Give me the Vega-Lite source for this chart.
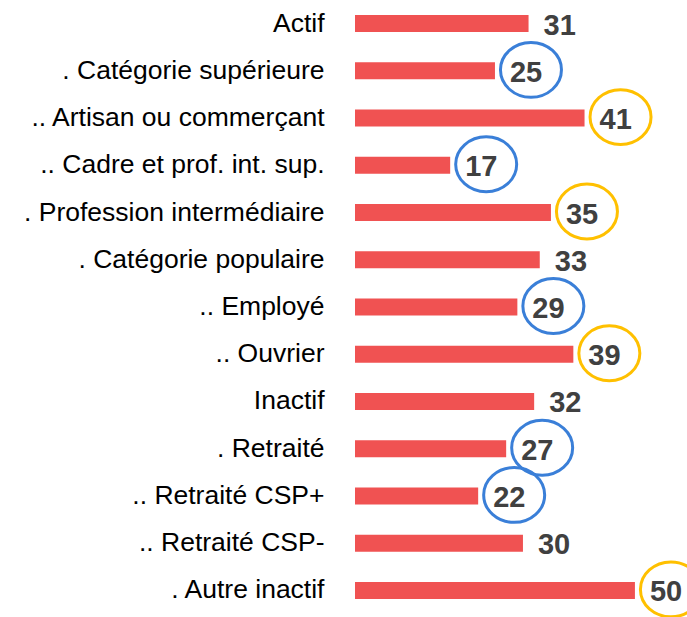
{
  "$schema": "https://vega.github.io/schema/vega-lite/v6.json",
  "width": 332,
  "height": 614,
  "autosize": {"type": "none"},
  "padding": {"left": 355, "top": 0, "right": 0, "bottom": 3},
  "background": "white",
  "config": {"view": {"stroke": null}},
  "data": {
    "values": [
      {"cat": "Actif", "value": 31, "mark": "none"},
      {"cat": ". Catégorie supérieure", "value": 25, "mark": "low"},
      {"cat": ".. Artisan ou commerçant", "value": 41, "mark": "high"},
      {"cat": ".. Cadre et prof. int. sup.", "value": 17, "mark": "low"},
      {"cat": ". Profession intermédiaire", "value": 35, "mark": "high"},
      {"cat": ". Catégorie populaire", "value": 33, "mark": "none"},
      {"cat": ".. Employé", "value": 29, "mark": "low"},
      {"cat": ".. Ouvrier", "value": 39, "mark": "high"},
      {"cat": "Inactif", "value": 32, "mark": "none"},
      {"cat": ". Retraité", "value": 27, "mark": "low"},
      {"cat": ".. Retraité CSP+", "value": 22, "mark": "low"},
      {"cat": ".. Retraité CSP-", "value": 30, "mark": "none"},
      {"cat": ". Autre inactif", "value": 50, "mark": "high"}
    ]
  },
  "encoding": {
    "y": {
      "field": "cat",
      "type": "nominal",
      "sort": null,
      "scale": {"paddingInner": 0.64, "paddingOuter": 0.32},
      "axis": {
        "title": null,
        "domain": false,
        "ticks": false,
        "labelFont": "Liberation Sans",
        "labelFontSize": 26.5,
        "labelColor": "#000000",
        "labelPadding": 31,
        "labelLimit": 0
      }
    },
    "x": {
      "field": "value",
      "type": "quantitative",
      "scale": {"domain": [0, 59.3], "nice": false},
      "axis": null
    }
  },
  "layer": [
    {"mark": {"type": "bar", "color": "#F05252", "cornerRadius": 0}},
    {
      "transform": [{"filter": "datum.mark !== 'none'"}],
      "mark": {
        "type": "point",
        "shape": "M1,0 A1,0.9 0 1,1 -1,0 A1,0.9 0 1,1 1,0 Z",
        "size": 3721,
        "filled": false,
        "strokeWidth": 3,
        "opacity": 1,
        "xOffset": 36,
        "yOffset": -1,
        "clip": false
      },
      "encoding": {
        "stroke": {
          "field": "mark",
          "type": "nominal",
          "scale": {"domain": ["low", "high"], "range": ["#3A7FD8", "#FFC000"]},
          "legend": null
        }
      }
    },
    {
      "mark": {
        "type": "text",
        "align": "left",
        "baseline": "middle",
        "dx": 15,
        "dy": 2,
        "font": "Liberation Sans",
        "fontWeight": "bold",
        "fontSize": 29,
        "color": "#404040"
      },
      "encoding": {"text": {"field": "value", "type": "quantitative"}}
    }
  ]
}
